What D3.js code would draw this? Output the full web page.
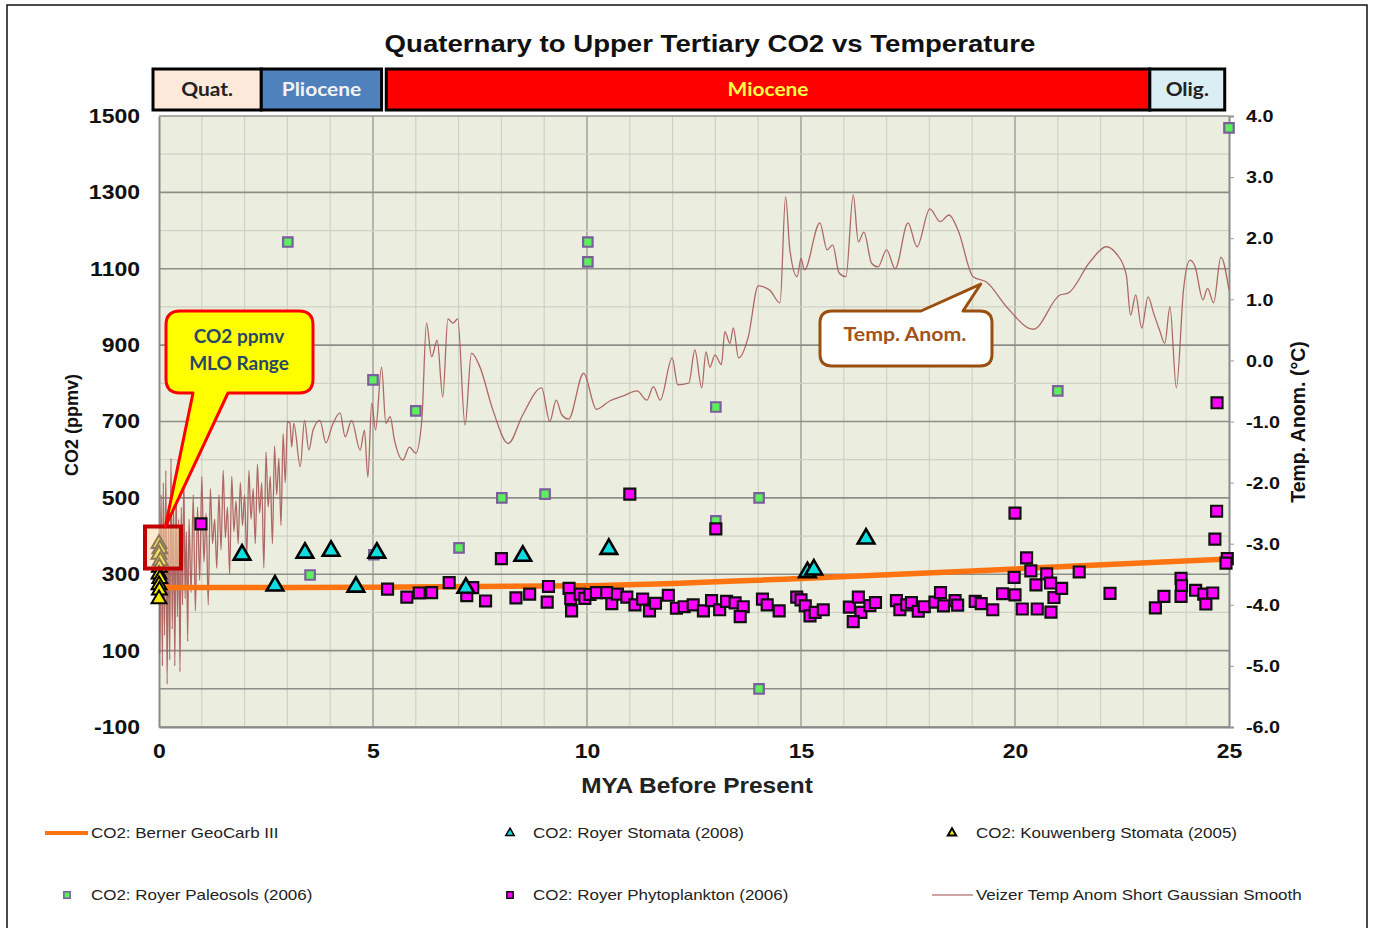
<!DOCTYPE html>
<html>
<head>
<meta charset="utf-8">
<script src="https://cdn.jsdelivr.net/npm/d3@7"></script>
<style>
  body { margin: 0; background: #fff; }
  svg { display: block; }
</style>
</head>
<body>
<div id="chart"></div>
<script>
// --- data ---
var eras = ["Quat.", "Pliocene", "Miocene", "Olig."];
var eraStart = [-0.14, 2.39, 5.31, 23.15];
var eraEnd = [2.39, 5.2, 23.15, 24.9];

var co2Ticks = [-100, 100, 300, 500, 700, 900, 1100, 1300, 1500];
var tempTicks = [-6, -5, -4, -3, -2, -1, 0, 1, 2, 3, 4];
var myaTicks = [0, 5, 10, 15, 20, 25];

// Berner GeoCarb III [mya, ppm]
var geocarbMya = [0, 5, 10, 15, 20, 25];
var geocarbCo2 = [265, 266, 270, 289, 314, 340];

// Royer Stomata (2008)
var stomataMya = [1.94, 2.71, 3.41, 4.02, 4.6, 5.09, 7.17, 8.5, 10.51, 15.15, 15.3, 16.52];
var stomataCo2 = [351, 270, 356, 361, 267, 356, 264, 348, 366, 305, 312, 393];

// Kouwenberg Stomata (2005)
var kouwMya = [0.0, 0.02, 0.0, 0.03, 0.01, 0.0, 0.02, 0.0, 0.01, 0.0];
var kouwCo2 = [380, 366, 352, 335, 318, 300, 288, 272, 258, 235];

// Royer Paleosols (2006)
var paleoMya = [3.01, 3.53, 5.0, 5.02, 6.0, 7.01, 8.01, 9.02, 10.02, 10.02, 13.01, 13.01, 14.02, 14.02, 21.0, 25.0];
var paleoCo2 = [1170, 298, 809, 351, 728, 369, 500, 510, 1170, 1118, 738, 440, 500, 0, 780, 1469];

// Royer Phytoplankton (2006)
var phytoMya = [0.98, 5.34, 5.79, 6.08, 6.37, 6.78, 7.19, 7.33, 7.63, 8.0, 8.34, 8.66,
  9.1, 9.07, 11.0, 13.01, 9.58, 9.62, 9.64, 9.84, 9.95, 10.07, 10.22, 10.46, 10.58, 10.71,
  10.93, 11.12, 11.3, 11.46, 11.6, 11.9, 12.09, 12.27, 12.48, 12.72, 12.91, 13.1, 13.26,
  13.46, 13.65, 13.58, 14.1, 14.21, 14.49, 14.9, 15.0, 15.1, 15.21, 15.33, 15.52, 16.13,
  16.34, 16.4, 16.22, 16.61, 16.74, 17.23, 17.31, 17.47, 17.58, 17.74, 17.88, 18.13, 18.26,
  18.33, 18.6, 18.66, 19.07, 19.21, 19.48, 19.71, 19.98, 20.0, 20.0, 20.17, 20.27, 20.37,
  20.49, 20.52, 20.74, 20.83, 20.91, 20.84, 21.09, 21.5, 22.22, 23.28, 23.48, 23.88, 23.89,
  23.88, 24.22, 24.41, 24.46, 24.62, 24.71, 24.67, 24.96, 24.93, 24.72];
var phytoCo2 = [432, 261, 240, 251, 252, 278, 244, 265, 230, 341, 238, 248,
  268, 227, 510, 419, 263, 236, 204, 248, 237, 247, 252, 252, 223, 248,
  240, 220, 235, 204, 224, 245, 211, 215, 220, 204, 231, 207, 229,
  225, 215, 189, 235, 220, 204, 240, 233, 217, 191, 200, 207, 214,
  240, 200, 176, 218, 226, 231, 207, 220, 226, 203, 215, 227, 252,
  217, 231, 219, 229, 223, 207, 249, 292, 246, 460, 209, 343, 309,
  272, 209, 301, 277, 239, 201, 263, 306, 250, 212, 242, 289, 270,
  242, 258, 248, 222, 251, 465, 392, 341, 329, 749];

// Veizer Temp Anom Short Gaussian Smooth [mya]
var veizerMya = [0.0, 0.02, 0.05, 0.08, 0.1, 0.13, 0.16, 0.19, 0.22, 0.25, 0.28, 0.31, 0.34,
  0.37, 0.4, 0.43, 0.46, 0.49, 0.52, 0.55, 0.58, 0.61, 0.64, 0.67, 0.7, 0.75, 0.8, 0.85, 0.9,
  0.95, 1.0, 1.05, 1.1, 1.15, 1.2, 1.25, 1.3, 1.35, 1.4, 1.45, 1.5, 1.55, 1.6, 1.65, 1.7, 1.75,
  1.8, 1.85, 1.9, 1.95, 2.0, 2.05, 2.1, 2.15, 2.2, 2.25, 2.3, 2.35, 2.4, 2.45, 2.5, 2.55, 2.6,
  2.65, 2.7, 2.75, 2.8, 2.85, 2.9, 2.95, 3.0, 3.06, 3.1, 3.15, 3.3, 3.4, 3.5, 3.6, 3.76, 3.9,
  4.05, 4.23, 4.35, 4.5, 4.7, 4.8, 4.88, 4.97, 5.06, 5.2, 5.3, 5.4, 5.5, 5.7, 5.85, 6.0, 6.14,
  6.25, 6.37, 6.5, 6.63, 6.75, 6.87, 6.98, 7.15, 7.3, 7.5, 7.8, 8.16, 8.5, 8.94, 9.13, 9.28,
  9.41, 9.57, 9.92, 10.22, 10.54, 10.85, 11.17, 11.4, 11.55, 11.71, 11.99, 12.12, 12.38, 12.52,
  12.68, 12.78, 12.87, 12.99, 13.14, 13.22, 13.34, 13.42, 13.54, 13.77, 14.0, 14.27, 14.51,
  14.64, 14.74, 14.91, 15.0, 15.08, 15.44, 15.61, 15.74, 15.89, 16.05, 16.22, 16.34, 16.47,
  16.65, 16.8, 17.0, 17.2, 17.5, 17.71, 18.01, 18.25, 18.46, 18.67, 19.02, 19.34, 19.81,
  20.43, 21.05, 21.24, 21.75, 22.13, 22.34, 22.6, 22.7, 22.82, 22.96, 23.11, 23.24, 23.37,
  23.5, 23.62, 23.77, 23.94, 24.09, 24.21, 24.39, 24.5, 24.64, 24.81, 25.0];
var veizerTemp = [-3.0, -4.8, -2.2, -5.0, -2.0, -4.5, -1.8, -5.3, -2.5, -4.9, -1.6, -4.4, -2.3,
  -5.0, -2.0, -4.2, -2.6, -5.1, -2.4, -4.0, -1.9, -3.9, -2.8, -4.6, -2.6, -3.8, -2.2, -4.1, -2.4,
  -3.6, -1.9, -3.3, -2.5, -4.0, -2.1, -3.0, -2.6, -3.4, -2.2, -3.1, -1.8, -2.9, -2.4, -3.5, -1.9, -2.8,
  -2.3, -3.0, -2.0, -2.7, -2.2, -3.2, -1.8, -2.6, -2.1, -3.0, -1.7, -2.5, -2.0, -3.4, -1.5, -2.4, -1.9,
  -3.0, -1.4, -2.2, -1.6, -2.7, -1.2, -2.0, -1.0, -1.03, -1.42, -1.03, -1.74, -0.98, -1.47, -1.14, -0.98, -1.35,
  -1.06, -0.86, -1.25, -0.98, -1.47, -1.14, -1.91, -0.7, -1.14, -0.11, -1.03, -0.92, -1.3, -1.63, -1.42, -1.52, -0.98,
  0.61, 0.06, 0.33, -0.6, 0.68, 0.61, 0.68, -1.06, 0.12, -0.11, -0.81, -1.36, -0.89, -0.45, -1.0, -0.65,
  -0.89, -0.96, -0.21, -0.8, -0.66, -0.58, -0.5, -0.65, -0.43, -0.65, 0.04, -0.4, -0.37, 0.17,
  -0.45, 0.14, -0.11, 0.09, -0.07, 0.47, 0.28, 0.53, 0.04, 0.39, 1.22, 1.15, 0.94,
  2.68, 1.81, 1.37, 1.67, 1.48, 2.25, 1.81, 1.89, 1.43, 1.37, 2.71, 1.94, 2.1,
  1.59, 1.53, 1.81, 1.5, 2.25, 1.86, 2.48, 2.27, 2.38, 2.13, 1.37, 1.28, 0.87,
  0.51, 1.07, 1.1, 1.61, 1.86, 1.77, 1.4, 0.74, 1.07, 0.53, 1.04, 0.77, 0.51,
  0.28, 0.88, -0.45, 1.18, 1.64, 1.53, 0.99, 1.18, 0.94, 1.69, 1.15];

// --- layout ---
var W = 1373, H = 928;
var SX = 1.15; // the original is stretched sideways a little

var svg = d3.select("#chart").append("svg")
  .attr("width", W)
  .attr("height", H)
  .style("font-family", "'Liberation Sans', Arial, sans-serif");

var x = d3.scaleLinear().domain([0, 25]).range([159, 1229]);
var y = d3.scaleLinear().domain([-100, 1500]).range([727, 116]);
var yT = d3.scaleLinear().domain([-6, 4]).range([727, 116]);

var hyphen = function(f) { return function(d) { return f(d).replace("\u2212", "-"); }; };

// widen a text sideways around its own x anchor
function stretch(sel, sx) {
  sel.each(function() {
    var t = d3.select(this);
    var ax = +t.attr("x") || 0;
    t.attr("transform", "translate(" + (ax * (1 - sx)) + ",0) scale(" + sx + ",1)");
  });
}

// outer frame
svg.append("rect").attr("x", 7).attr("y", 5).attr("width", 1360).attr("height", 940)
  .attr("fill", "none").attr("stroke", "#111").attr("stroke-width", 1.5);

// title
svg.append("text").attr("x", 710).attr("y", 52).attr("text-anchor", "middle")
  .attr("font-size", 24).attr("font-weight", "bold").attr("fill", "#111")
  .text("Quaternary to Upper Tertiary CO2 vs Temperature")
  .call(stretch, SX);

// era bar
var eraFill = ["#fde9d9", "#4f81bd", "#ff0000", "#dbeef4"];
var eraText = ["#222", "#f2f2f2", "#ffff40", "#222"];
var eraG = svg.append("g");
eras.forEach(function(e, i) {
  var x0 = x(eraStart[i]), x1 = x(eraEnd[i]);
  eraG.append("rect").attr("x", x0).attr("y", 69).attr("width", x1 - x0).attr("height", 41)
    .attr("fill", eraFill[i]).attr("stroke", "#000").attr("stroke-width", 3);
  eraG.append("text").attr("x", (x0 + x1) / 2).attr("y", 96).attr("text-anchor", "middle")
    .attr("font-family", "Lato, 'Open Sans', sans-serif").attr("font-weight", "bold")
    .attr("font-size", 19).attr("fill", eraText[i]).text(e)
    .call(stretch, 1.1);
});

// plot background
svg.append("rect").attr("x", x(0)).attr("y", y(1500)).attr("width", x(25) - x(0))
  .attr("height", y(-100) - y(1500)).attr("fill", "#ebeede");

// grid
var grid = svg.append("g");
d3.range(1, 25).forEach(function(m) {
  grid.append("line").attr("x1", x(m)).attr("x2", x(m)).attr("y1", y(1500)).attr("y2", y(-100))
    .attr("stroke", m % 5 === 0 ? "#a6a6a0" : "#cfd0c6").attr("stroke-width", m % 5 === 0 ? 1.6 : 1.2);
});
d3.range(-100, 1501, 100).forEach(function(v) {
  var dark = (v % 200 !== 0) || v === 0;
  grid.append("line").attr("x1", x(0)).attr("x2", x(25)).attr("y1", y(v)).attr("y2", y(v))
    .attr("stroke", dark ? "#8e8e88" : "#cfd0c6").attr("stroke-width", dark ? 1.6 : 1.2);
});

// axes
var axL = svg.append("g").attr("transform", "translate(" + x(0) + ",0)")
  .call(d3.axisLeft(y).tickValues(co2Ticks).tickSize(0).tickPadding(19).tickFormat(hyphen(d3.format("d"))));
var axR = svg.append("g").attr("transform", "translate(" + x(25) + ",0)")
  .call(d3.axisRight(yT).tickValues(tempTicks).tickSize(5).tickPadding(12).tickFormat(hyphen(d3.format(".1f"))));
var axB = svg.append("g").attr("transform", "translate(0," + y(-100) + ")")
  .call(d3.axisBottom(x).tickValues(myaTicks).tickSize(0).tickPadding(17).tickFormat(d3.format("d")));
[axL, axR, axB].forEach(function(a) {
  a.select(".domain").attr("stroke", "#8a8a8a").attr("stroke-width", 2);
  a.selectAll(".tick line").attr("stroke", "#999");
  a.selectAll("text").attr("font-family", "'Liberation Sans', Arial, sans-serif")
    .attr("font-weight", "bold").attr("fill", "#111");
});
axL.selectAll("text").attr("font-size", 20).call(stretch, SX);
axB.selectAll("text").attr("font-size", 20).call(stretch, SX);
axR.selectAll("text").attr("font-size", 16.5).attr("dy", "0.35em").call(stretch, 1.2);
// top frame line
svg.append("line").attr("x1", x(0)).attr("x2", x(25)).attr("y1", y(1500)).attr("y2", y(1500))
  .attr("stroke", "#b0b0a8").attr("stroke-width", 1);

// axis titles
svg.append("text").attr("transform", "translate(78,425) rotate(-90)").attr("text-anchor", "middle")
  .attr("font-size", 18).attr("font-weight", "bold").attr("fill", "#111").text("CO2 (ppmv)");
svg.append("text").attr("transform", "translate(1305,422) rotate(-90)").attr("text-anchor", "middle")
  .attr("font-size", 19.5).attr("font-weight", "bold").attr("fill", "#111").text("Temp. Anom. (°C)");
svg.append("text").attr("x", 697).attr("y", 793).attr("text-anchor", "middle")
  .attr("font-size", 22).attr("font-weight", "bold").attr("fill", "#222").text("MYA Before Present")
  .call(stretch, 1.11);

// clip
svg.append("clipPath").attr("id", "plotclip").append("rect")
  .attr("x", x(0)).attr("y", y(1500)).attr("width", x(25) - x(0)).attr("height", y(-100) - y(1500));

var plot = svg.append("g").attr("clip-path", "url(#plotclip)");
var marks = svg.append("g");

// Veizer temp line
var veizer = veizerMya.map(function(m, i) { return [m, veizerTemp[i]]; });
plot.append("path").datum(veizer)
  .attr("d", d3.line().x(function(d) { return x(d[0]); }).y(function(d) { return yT(d[1]); }).curve(d3.curveMonotoneX))
  .attr("fill", "none").attr("stroke", "#a85a58").attr("stroke-width", 1.3).attr("stroke-opacity", 0.9);

// GeoCarb line
var geocarb = geocarbMya.map(function(m, i) { return [m, geocarbCo2[i]]; });
plot.append("path").datum(geocarb)
  .attr("d", d3.line().x(function(d) { return x(d[0]); }).y(function(d) { return y(d[1]); }).curve(d3.curveMonotoneX))
  .attr("fill", "none").attr("stroke", "#ff7410").attr("stroke-width", 5.5);

function pts(mya, vals) { return mya.map(function(m, i) { return [m, vals[i]]; }); }
function at(d) { return "translate(" + x(d[0]) + "," + y(d[1]) + ")"; }

// Paleosols
marks.selectAll(".paleo").data(pts(paleoMya, paleoCo2)).enter().append("path")
  .attr("transform", at)
  .attr("d", d3.symbol().type(d3.symbolSquare).size(90))
  .attr("fill", "#5cf05c").attr("stroke", "#7b5e9c").attr("stroke-width", 2.2);

// Phytoplankton
marks.selectAll(".phyto").data(pts(phytoMya, phytoCo2)).enter().append("path")
  .attr("transform", at)
  .attr("d", d3.symbol().type(d3.symbolSquare).size(120))
  .attr("fill", "#ff00ff").attr("stroke", "#111").attr("stroke-width", 2.2);

// Royer stomata
marks.selectAll(".stom").data(pts(stomataMya, stomataCo2)).enter().append("path")
  .attr("transform", at)
  .attr("d", d3.symbol().type(d3.symbolTriangle).size(120))
  .attr("fill", "#10dde0").attr("stroke", "#000").attr("stroke-width", 2.6);

// Kouwenberg stomata
marks.selectAll(".kouw").data(pts(kouwMya, kouwCo2)).enter().append("path")
  .attr("transform", at)
  .attr("d", d3.symbol().type(d3.symbolTriangle).size(95))
  .attr("fill", "#f4e800").attr("stroke", "#000").attr("stroke-width", 2);

// MLO range box
svg.append("rect").attr("x", x(0) - 14).attr("y", y(425)).attr("width", 36).attr("height", y(315) - y(425))
  .attr("fill", "#fcd8a6").attr("fill-opacity", 0.55).attr("stroke", "#c00000").attr("stroke-width", 4);

// callout helper: rounded rect with a pointer
function callout(bx0, by0, bx1, by1, r, side, p0, p1, tip) {
  var p = d3.path();
  p.moveTo(bx0 + r, by0);
  if (side === "top") { p.lineTo(p0, by0); p.lineTo(tip[0], tip[1]); p.lineTo(p1, by0); }
  p.lineTo(bx1 - r, by0);
  p.quadraticCurveTo(bx1, by0, bx1, by0 + r);
  p.lineTo(bx1, by1 - r);
  p.quadraticCurveTo(bx1, by1, bx1 - r, by1);
  if (side === "bottom") { p.lineTo(p1, by1); p.lineTo(tip[0], tip[1]); p.lineTo(p0, by1); }
  p.lineTo(bx0 + r, by1);
  p.quadraticCurveTo(bx0, by1, bx0, by1 - r);
  p.lineTo(bx0, by0 + r);
  p.quadraticCurveTo(bx0, by0, bx0 + r, by0);
  p.closePath();
  return p.toString();
}

// yellow MLO callout
svg.append("path")
  .attr("d", callout(166, 311, 313, 393, 14, "bottom", 193, 228, [x(0.15), y(425)]))
  .attr("fill", "#ffff00").attr("stroke", "#ff0000").attr("stroke-width", 3).attr("stroke-linejoin", "round");
svg.append("text").attr("x", 239).attr("y", 343).attr("text-anchor", "middle")
  .attr("font-family", "Lato, 'Open Sans', sans-serif").attr("font-weight", "bold").attr("font-size", 19)
  .attr("fill", "#2a4766").text("CO2 ppmv");
svg.append("text").attr("x", 239).attr("y", 370).attr("text-anchor", "middle")
  .attr("font-family", "Lato, 'Open Sans', sans-serif").attr("font-weight", "bold").attr("font-size", 19)
  .attr("fill", "#2a4766").text("MLO Range");

// Temp. Anom. callout
svg.append("path")
  .attr("d", callout(820, 311, 992, 366, 12, "top", 921, 963, [x(19.2), yT(1.25)]))
  .attr("fill", "#fff").attr("stroke", "#9a4e10").attr("stroke-width", 3).attr("stroke-linejoin", "round");
svg.append("text").attr("x", 905).attr("y", 341).attr("text-anchor", "middle")
  .attr("font-family", "Lato, 'Open Sans', sans-serif").attr("font-weight", "bold").attr("font-size", 19)
  .attr("fill", "#a0521a").text("Temp. Anom.")
  .call(stretch, 1.12);

// legend
var legend = svg.append("g").attr("font-size", 14.5).attr("fill", "#222");
function legText(tx, ty, t) {
  legend.append("text").attr("x", tx).attr("y", ty + 5).text(t).call(stretch, 1.17);
}
legend.append("line").attr("x1", 45).attr("x2", 88).attr("y1", 833).attr("y2", 833)
  .attr("stroke", "#ff7410").attr("stroke-width", 4);
legText(91, 833, "CO2: Berner GeoCarb III");
legend.append("path").attr("transform", "translate(510,833)")
  .attr("d", d3.symbol().type(d3.symbolTriangle).size(30))
  .attr("fill", "#10dde0").attr("stroke", "#000").attr("stroke-width", 1.5);
legText(533, 833, "CO2: Royer Stomata (2008)");
legend.append("path").attr("transform", "translate(952,833)")
  .attr("d", d3.symbol().type(d3.symbolTriangle).size(30))
  .attr("fill", "#f4e800").attr("stroke", "#000").attr("stroke-width", 2);
legText(976, 833, "CO2: Kouwenberg Stomata (2005)");
legend.append("path").attr("transform", "translate(67,895)")
  .attr("d", d3.symbol().type(d3.symbolSquare).size(40))
  .attr("fill", "#5cf05c").attr("stroke", "#7b5e9c").attr("stroke-width", 1.5);
legText(91, 895, "CO2: Royer Paleosols (2006)");
legend.append("path").attr("transform", "translate(510,895)")
  .attr("d", d3.symbol().type(d3.symbolSquare).size(40))
  .attr("fill", "#ff00ff").attr("stroke", "#111").attr("stroke-width", 1.5);
legText(533, 895, "CO2: Royer Phytoplankton (2006)");
legend.append("line").attr("x1", 932).attr("x2", 973).attr("y1", 895).attr("y2", 895)
  .attr("stroke", "#c08886").attr("stroke-width", 1.5);
legText(976, 895, "Veizer Temp Anom Short Gaussian Smooth");
</script>
</body>
</html>
